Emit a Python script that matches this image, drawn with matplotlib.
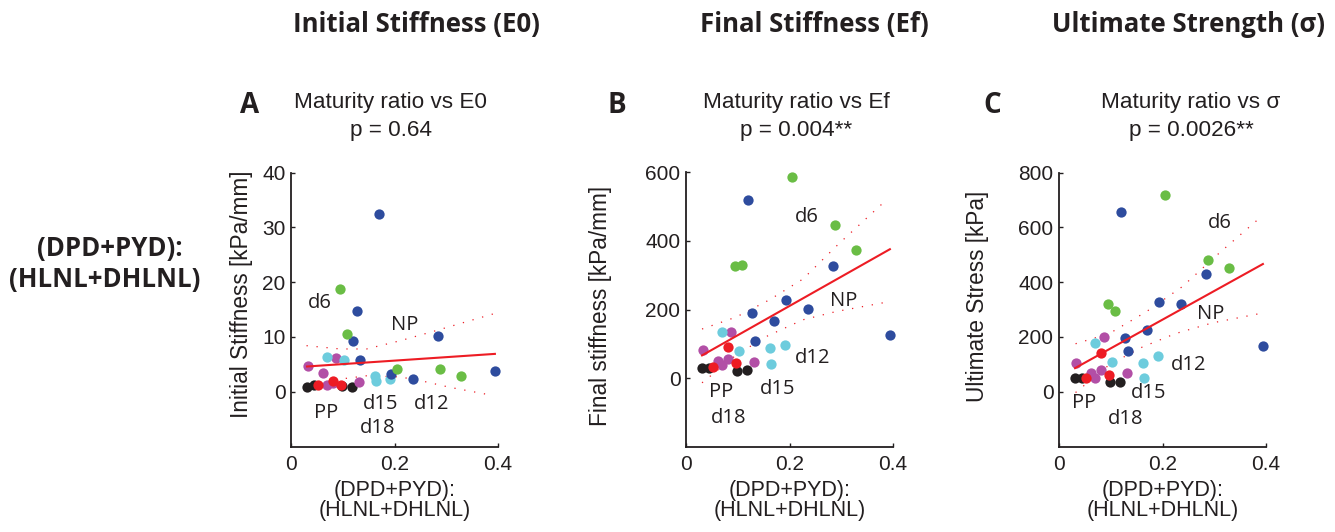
import matplotlib
matplotlib.use("Agg")
import matplotlib.pyplot as plt

# ---------------- data ----------------
groups = ["PP", "d15", "d12", "NP", "d6", "d18"]
colors = {"NP": "#2E4C9E", "d6": "#6ABD45", "d12": "#6DCCDD",
          "d15": "#B24FA6", "d18": "#ED1C24", "PP": "#231F20"}

x_NP = [0.119, 0.128, 0.134, 0.170, 0.194, 0.236, 0.285, 0.395]
x_d6 = [0.095, 0.108, 0.204, 0.287, 0.329]
x_d12 = [0.070, 0.102, 0.163, 0.164, 0.192]
x_d15 = [0.033, 0.061, 0.070, 0.082, 0.087, 0.132]
x_d18 = [0.053, 0.082, 0.097]
x_PP = [0.030, 0.045, 0.099, 0.118]

E0_NP = [9.3, 14.8, 5.7, 32.5, 3.2, 2.3, 10.1, 3.7]
E0_d6 = [18.7, 10.5, 4.1, 4.2, 2.9]
E0_d12 = [6.4, 5.7, 2.9, 1.9, 2.3]
E0_d15 = [4.6, 3.5, 1.3, 1.5, 6.1, 1.7]
E0_d18 = [1.3, 1.9, 1.3]
E0_PP = [0.85, 1.25, 0.95, 0.85]

Ef_NP = [520, 189, 107, 165, 227, 201, 326, 127]
Ef_d6 = [327, 329, 588, 447, 373]
Ef_d12 = [134, 80, 88, 42, 95]
Ef_d15 = [83, 51, 39, 56, 133, 47]
Ef_d18 = [31, 90, 44]
Ef_PP = [29, 29, 21, 23]

sig_NP = [655, 197, 148, 224, 328, 320, 431, 167]
sig_d6 = [320, 294, 719, 481, 451]
sig_d12 = [178, 109, 104, 51, 129]
sig_d15 = [105, 69, 50, 81, 198, 69]
sig_d18 = [51, 140, 61]
sig_PP = [50, 50, 34, 34]

# regression fit lines
fit_x = [0.031, 0.394]
fit_E0 = [4.6, 6.9]
fit_Ef = [66, 376]
fit_sig = [86, 466]

# confidence bands
bandA_x_up = [0.030, 0.095, 0.146, 0.211, 0.275, 0.340, 0.391]
bandA_up = [8.4, 7.8, 7.8, 9.3, 11.0, 12.8, 14.2]
bandA_x_lo = [0.030, 0.095, 0.146, 0.211, 0.256, 0.307, 0.391]
bandA_lo = [1.0, 2.3, 2.9, 2.7, 1.9, 0.8, -0.7]

bandB_x_up = [0.031, 0.097, 0.161, 0.226, 0.296, 0.383]
bandB_up = [143, 178, 228, 289, 393, 514]
bandB_x_lo = [0.031, 0.097, 0.155, 0.226, 0.290, 0.393]
bandB_lo = [-14, 67, 121, 170, 194, 223]

bandC_x_up = [0.032, 0.097, 0.168, 0.238, 0.309, 0.386]
bandC_up = [175, 212, 291, 383, 505, 631]
bandC_x_lo = [0.032, 0.097, 0.161, 0.225, 0.296, 0.393]
bandC_lo = [-3, 98, 163, 212, 251, 287]

x_ticks = [0, 0.2, 0.4]
x_ticklabels = ["0", "0.2", "0.4"]

headers = ["Initial Stiffness (E0)", "Final Stiffness (Ef)", "Ultimate Strength (\u03c3)"]
letters = ["A", "B", "C"]
titles = ["Maturity ratio vs E0", "Maturity ratio vs Ef", "Maturity ratio vs \u03c3"]
pvals = ["p = 0.64", "p = 0.004**", "p = 0.0026**"]
ylabels = ["Initial Stiffness [kPa/mm]", "Final stiffness [kPa/mm]", "Ultimate Stress [kPa]"]
yticks_all = [[0, 10, 20, 30, 40], [0, 200, 400, 600], [0, 200, 400, 600, 800]]
ylims = [(-10, 40), (-200, 600), (-200, 800)]

group_labels = ["d6", "NP", "d15", "d12", "d18", "PP"]
labA = [(0.056, 16.2), (0.219, 12.2), (0.174, -2.2), (0.271, -2.2), (0.167, -6.7), (0.068, -3.8)]
labB = [(0.234, 471), (0.305, 224), (0.177, -32), (0.245, 57), (0.082, -117), (0.068, -41)]
labC = [(0.310, 616), (0.293, 282), (0.173, -5), (0.250, 96), (0.129, -98), (0.048, -42)]

# ---------------- layout ----------------
W, H = 1335, 532
fig = plt.figure(figsize=(W / 100, H / 100), dpi=100)

def fx(px):
    return px / W

def fy(py):
    return 1 - py / H

ax_left = [291, 686, 1059]
ax_w = 207
ax_top, ax_bot = 172.5, 446.5
title_cx = [391, 796, 1191]
header_cx = [416, 814, 1188]
letter_cx = [250, 617, 992]
ylab_pos = [(-0.237, 0.557), (-0.415, 0.513), (-0.396, 0.549)]

xs = {"NP": x_NP, "d6": x_d6, "d12": x_d12, "d15": x_d15, "d18": x_d18, "PP": x_PP}
ys_all = [
    {"NP": E0_NP, "d6": E0_d6, "d12": E0_d12, "d15": E0_d15, "d18": E0_d18, "PP": E0_PP},
    {"NP": Ef_NP, "d6": Ef_d6, "d12": Ef_d12, "d15": Ef_d15, "d18": Ef_d18, "PP": Ef_PP},
    {"NP": sig_NP, "d6": sig_d6, "d12": sig_d12, "d15": sig_d15, "d18": sig_d18, "PP": sig_PP},
]
fits = [fit_E0, fit_Ef, fit_sig]
bands = [
    (bandA_x_up, bandA_up, bandA_x_lo, bandA_lo),
    (bandB_x_up, bandB_up, bandB_x_lo, bandB_lo),
    (bandC_x_up, bandC_up, bandC_x_lo, bandC_lo),
]
labs = [labA, labB, labC]

tick_font = "Liberation Sans"
label_font = ["Open Sans", "DejaVu Sans"]
textc = "#231F20"

for i in range(3):
    ax = fig.add_axes([fx(ax_left[i]), fy(ax_bot), ax_w / W, (ax_bot - ax_top) / H])
    ax.set_xlim(0, 0.4)
    ax.set_ylim(*ylims[i])
    for s in ["top", "right"]:
        ax.spines[s].set_visible(False)
    for s in ["left", "bottom"]:
        ax.spines[s].set_linewidth(1.3)
        ax.spines[s].set_color("#231F20")
    ax.set_xticks(x_ticks)
    ax.set_xticklabels(x_ticklabels)
    ax.set_yticks(yticks_all[i])
    ax.tick_params(direction="in", length=3, width=1, labelsize=15, colors="#231F20")
    ax.tick_params(axis="x", pad=6)
    ax.tick_params(axis="y", pad=4)
    for lab in ax.get_xticklabels() + ax.get_yticklabels():
        lab.set_fontfamily(tick_font)

    bx_up, b_up, bx_lo, b_lo = bands[i]
    ax.plot(bx_up, b_up, color="#ED1C24", lw=0.9, ls=(0, (1, 7)), zorder=2)
    ax.plot(bx_lo, b_lo, color="#ED1C24", lw=0.9, ls=(0, (1, 7)), zorder=2)

    ys = ys_all[i]
    for g in groups:
        ax.plot(xs[g], ys[g], "o", ms=7.4, mfc=colors[g], mec="none", zorder=3,
                clip_on=False)

    ax.plot(fit_x, fits[i], color="#ED1C24", lw=1.5, zorder=4)

    for name, (lx, ly) in zip(group_labels, labs[i]):
        ax.text(lx, ly, name, ha="center", va="center", fontsize=14.5,
                family=label_font, color=textc, zorder=5)

    ax.text(ylab_pos[i][0], ylab_pos[i][1], ylabels[i], transform=ax.transAxes,
            rotation=90, ha="center", va="center", fontsize=16.3,
            family=tick_font, color=textc)

    cx = ax_left[i] + ax_w / 2
    fig.text(fx(cx), fy(496), "(DPD+PYD):", ha="center", va="baseline",
             fontsize=15.5, family=tick_font, color=textc)
    fig.text(fx(cx), fy(516), "(HLNL+DHLNL)", ha="center", va="baseline",
             fontsize=15.5, family=tick_font, color=textc)

    fig.text(fx(title_cx[i]), fy(108), titles[i], ha="center", va="baseline",
             fontsize=16.2, family=tick_font, color=textc)
    fig.text(fx(title_cx[i]), fy(136), pvals[i], ha="center", va="baseline",
             fontsize=16.2, family=tick_font, color=textc)

    fig.text(fx(header_cx[i]), fy(31.7), headers[i], ha="center", va="baseline",
             fontsize=18.5, family=label_font, fontweight="bold", color=textc)
    fig.text(fx(letter_cx[i]), fy(113), letters[i], ha="center", va="baseline",
             fontsize=20, family=label_font, fontweight="bold", color=textc)

fig.text(fx(110), fy(256), "(DPD+PYD):", ha="center", va="baseline",
         fontsize=18.5, family=label_font, fontweight="bold", color=textc)
fig.text(fx(105), fy(287), "(HLNL+DHLNL)", ha="center", va="baseline",
         fontsize=18.5, family=label_font, fontweight="bold", color=textc)

fig.savefig("out.png", dpi=100)
